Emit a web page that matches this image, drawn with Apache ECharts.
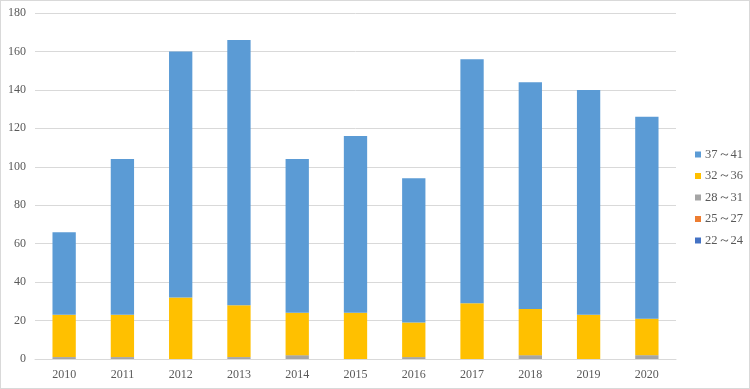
<!DOCTYPE html>
<html><head><meta charset="utf-8">
<script src="https://cdn.jsdelivr.net/npm/echarts@6/dist/echarts.min.js"></script>
<style>html,body{margin:0;padding:0;background:#fff}#c{width:750px;height:389px;box-sizing:border-box;border:1px solid #d9d9d9}</style>
</head><body><div id="c"></div>
<script>
var categories = ['2010','2011','2012','2013','2014','2015','2016','2017','2018','2019','2020'];
var s22_24 = [0,0,0,0,0,0,0,0,0,0,0];
var s25_27 = [0,0,0,0,0,0,0,0,0,0,0];
var s28_31 = [1,1,0,1,2,0,1,0,2,0,2];
var s32_36 = [22,22,32,27,22,24,18,29,24,23,19];
var s37_41 = [43,81,128,138,80,92,75,127,118,117,105];
var seriesNames = ['22～24','25～27','28～31','32～36','37～41'];
var colors = ['#4472C4','#ED7D31','#A5A5A5','#FFC000','#5B9BD5'];
var yMin = 0, yMax = 180, yStep = 20;

var chart = echarts.init(document.getElementById('c'));
var dataSets = [s22_24, s25_27, s28_31, s32_36, s37_41];
var font = '"Liberation Serif", "Times New Roman", serif';
chart.setOption({
  animation: false,
  textStyle: {fontFamily: font},
  grid: {left: 34, right: 73, top: 12, bottom: 29, containLabel: false},
  legend: {
    orient: 'vertical', left: 689, top: 142, itemWidth: 6, itemHeight: 6, itemGap: 8.5,
    icon: 'rect',
    data: seriesNames.slice().reverse(),
    textStyle: {fontFamily: font, fontSize: 12.5, color: '#595959', padding: [0,0,0,-1]}
  },
  xAxis: {
    type: 'category', data: categories,
    axisLine: {lineStyle: {color: '#d9d9d9'}},
    axisTick: {show: false},
    axisLabel: {fontFamily: font, fontSize: 12, color: '#595959', margin: 10}
  },
  yAxis: {
    type: 'value', min: yMin, max: yMax, interval: yStep,
    axisLine: {show: false}, axisTick: {show: false},
    splitLine: {lineStyle: {color: '#d9d9d9'}},
    axisLabel: {fontFamily: font, fontSize: 12, color: '#595959', margin: 9}
  },
  series: dataSets.map(function(d, i){
    return {name: seriesNames[i], type: 'bar', stack: 'total', data: d,
      barWidth: '40%', itemStyle: {color: colors[i]}};
  })
});
</script></body></html>
